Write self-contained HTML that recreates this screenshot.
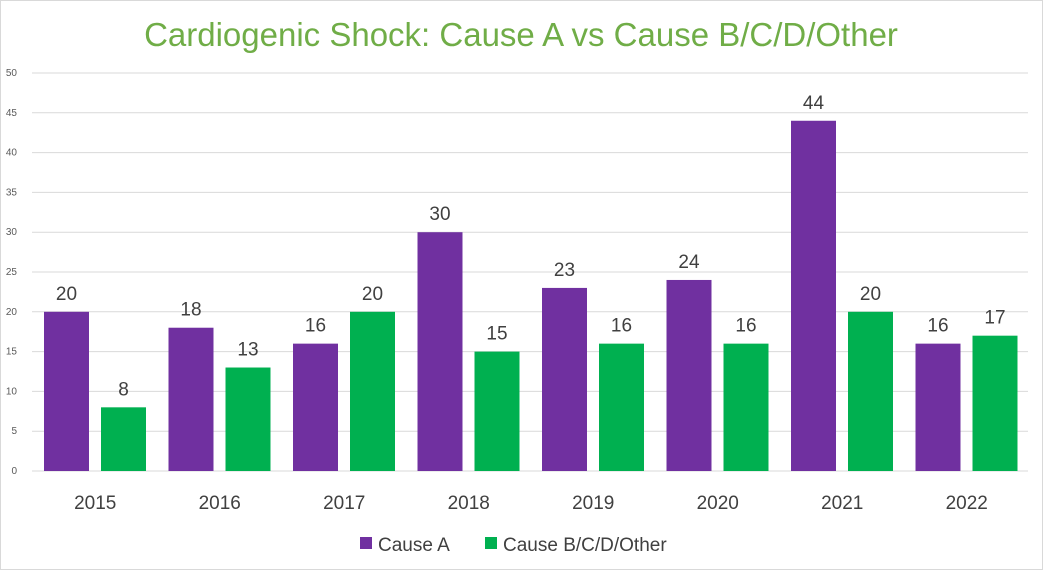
<!DOCTYPE html>
<html><head><meta charset="utf-8"><style>
body{margin:0;background:#fff;}
#wrap{position:relative;width:1043px;height:570px;overflow:hidden;}
svg text{font-family:"Liberation Sans",sans-serif;}
</style></head><body>
<div id="wrap">
<svg id="chart" width="1043" height="570">
<rect x="0.5" y="0.5" width="1042" height="569" fill="#fff" stroke="#d9d9d9"/>
<text x="521" y="46" text-anchor="middle" font-size="33" fill="#70ad47">Cardiogenic Shock: Cause A vs Cause B/C/D/Other</text>
<g id="grid"></g><g id="bars"></g><g id="labels"></g>
<g>
<rect x="360" y="537" width="12" height="12" fill="#7030a0"/>
<text x="378" y="551" font-size="19" fill="#404040">Cause A</text>
<rect x="485" y="537" width="12" height="12" fill="#00b050"/>
<text x="503" y="551" font-size="19" fill="#404040">Cause B/C/D/Other</text>
</g>
</svg>
</div>
<script>
const categories=["2015","2016","2017","2018","2019","2020","2021","2022"];
const causeA=[20,18,16,30,23,24,44,16];
const causeOther=[8,13,20,15,16,16,20,17];
const yTicks=[0,5,10,15,20,25,30,35,40,45,50];
const NS="http://www.w3.org/2000/svg";
const x0=32,x1=1028,yTop=73,yBot=471,yMax=50;
const band=(x1-x0)/categories.length;
function y(v){return yBot-(v/yMax)*(yBot-yTop);}
function xCat(i){return x0+i*band;}
function mk(tag,attrs,parent){const e=document.createElementNS(NS,tag);for(const k in attrs)e.setAttribute(k,attrs[k]);parent.appendChild(e);return e;}
const grid=document.getElementById('grid'),bars=document.getElementById('bars'),labels=document.getElementById('labels');
yTicks.forEach(t=>{
 const l=mk('line',{x1:x0,x2:x1,y1:y(t),y2:y(t),stroke:'#d9d9d9','stroke-width':1},grid);
 
 
 const tx=mk('text',{x:17,y:y(t)+3,'text-anchor':'end','font-size':10,fill:'#595959'},grid);
 tx.textContent=t;
 
 
});
const bw=45;
categories.forEach((c,i)=>{
 const xa=xCat(i)+12, xb=xa+57;
 const ra=mk('rect',{x:xa,y:y(causeA[i]),width:bw,height:yBot-y(causeA[i]),fill:'#7030a0'},bars);
 
 
 const rb=mk('rect',{x:xb,y:y(causeOther[i]),width:bw,height:yBot-y(causeOther[i]),fill:'#00b050'},bars);
 
 
 const la=mk('text',{x:xa+bw/2,y:y(causeA[i])-12,'text-anchor':'middle','font-size':19,fill:'#404040'},labels);
 la.textContent=causeA[i];
 
 
 const lb=mk('text',{x:xb+bw/2,y:y(causeOther[i])-12,'text-anchor':'middle','font-size':19,fill:'#404040'},labels);
 lb.textContent=causeOther[i];
 
 
 const cx=mk('text',{x:xCat(i)+band/2+1,y:509,'text-anchor':'middle','font-size':19,fill:'#404040'},labels);
 cx.textContent=c;
 
 
});
</script>
</body></html>
